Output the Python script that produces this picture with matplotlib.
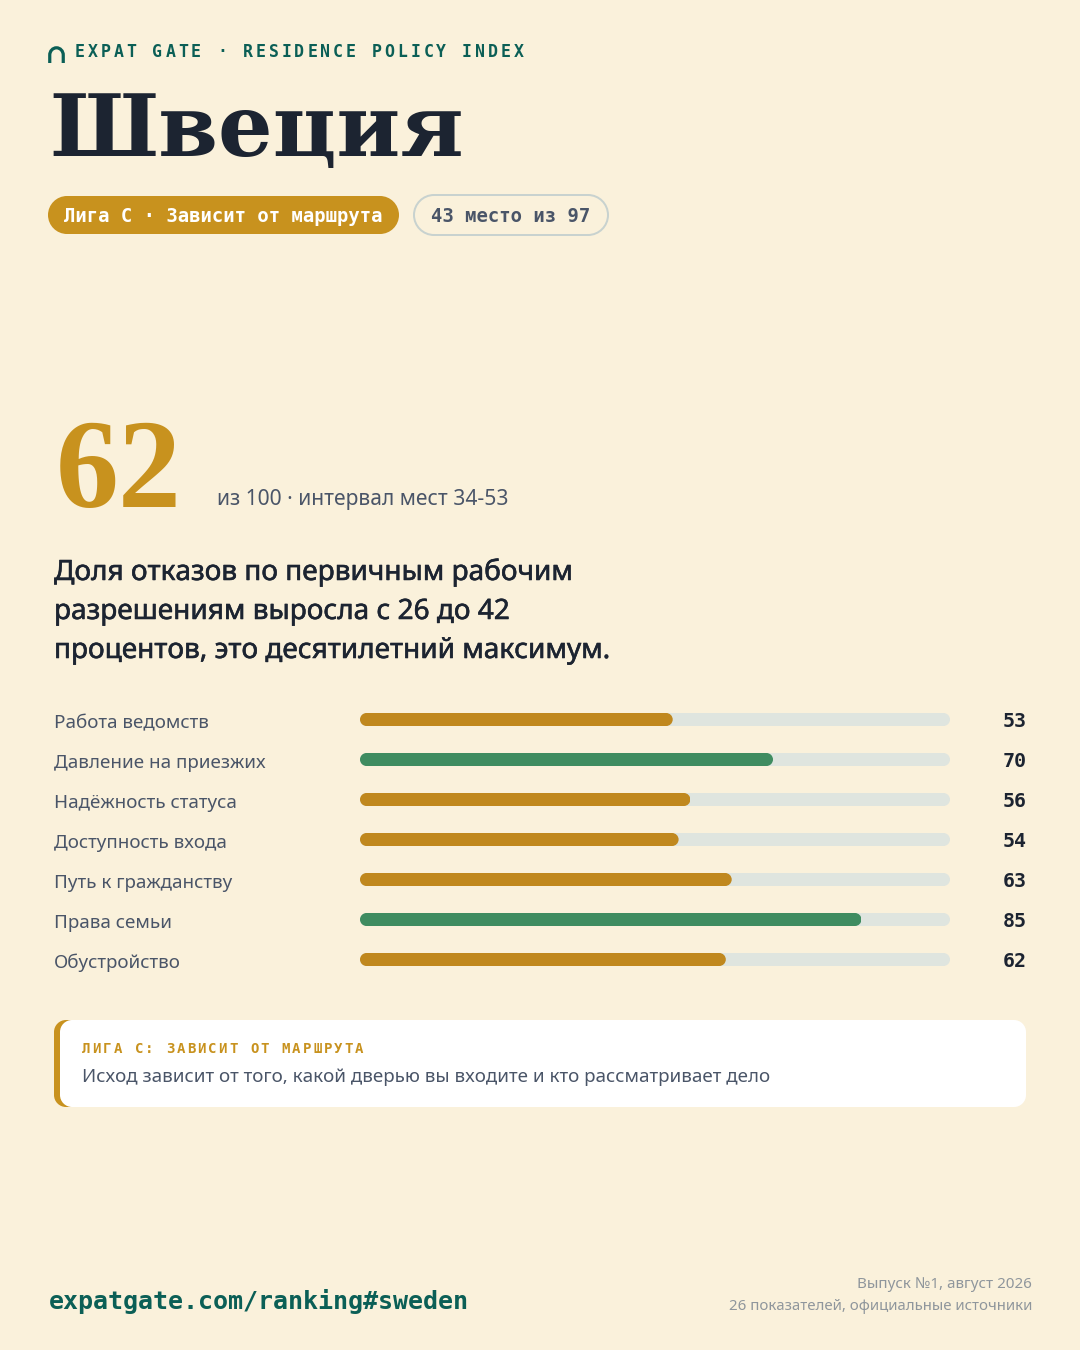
import matplotlib
matplotlib.use('Agg')
import matplotlib.pyplot as plt
import matplotlib.patheffects as pe
from matplotlib.patches import PathPatch
from matplotlib.path import Path
from matplotlib.transforms import blended_transform_factory

labels = ['Работа ведомств', 'Давление на приезжих', 'Надёжность статуса', 'Доступность входа',
          'Путь к гражданству', 'Права семьи', 'Обустройство']
values = [53, 70, 56, 54, 63, 85, 62]
bar_kinds = ['mid', 'high', 'mid', 'mid', 'mid', 'high', 'mid']
headline = ['Доля отказов по первичным рабочим', 'разрешениям выросла с 26 до 42',
            'процентов, это десятилетний максимум.']

BG = '#FAF1DB'
TEAL = '#0B5F56'
INK = '#1C2431'
GOLD = '#C8921E'
BAR_COLORS = {'mid': '#C0881E', 'high': '#3F8C60'}
TRACK = '#DFE5DF'
GREY = '#4A5568'
PALE = '#8F969C'

MONO = 'DejaVu Sans Mono'
SANS = 'Noto Sans'
SERIF = 'Liberation Serif'
TITLE = 'DejaVu Serif'


def pt(px):
    return px * 0.72


def spaced(ax, x, y, s, advance, size, color, weight='bold'):
    # letter spacing by hand, matplotlib has no tracking option
    for i, ch in enumerate(s):
        ax.text(x + i * advance, y, ch, family=MONO, fontsize=pt(size), color=color,
                weight=weight, va='baseline', ha='left')


def round_rect(x0, y0, x1, y1, rx, ry=None):
    # cubic corners, the built in round boxstyle looks too square on pills
    ry = rx if ry is None else ry
    kx, ky = rx * 0.448, ry * 0.448
    verts = [(x0 + rx, y0), (x1 - rx, y0),
             (x1 - kx, y0), (x1, y0 + ky), (x1, y0 + ry), (x1, y1 - ry),
             (x1, y1 - ky), (x1 - kx, y1), (x1 - rx, y1), (x0 + rx, y1),
             (x0 + kx, y1), (x0, y1 - ky), (x0, y1 - ry), (x0, y0 + ry),
             (x0, y0 + ky), (x0 + kx, y0), (x0 + rx, y0), (x0 + rx, y0)]
    codes = [Path.MOVETO, Path.LINETO,
             Path.CURVE4, Path.CURVE4, Path.CURVE4, Path.LINETO,
             Path.CURVE4, Path.CURVE4, Path.CURVE4, Path.LINETO,
             Path.CURVE4, Path.CURVE4, Path.CURVE4, Path.LINETO,
             Path.CURVE4, Path.CURVE4, Path.CURVE4, Path.CLOSEPOLY]
    return Path(verts, codes)


def box(ax, x0, y0, x1, y1, r, **kw):
    ax.add_patch(PathPatch(round_rect(x0, y0, x1, y1, r), **kw))


fig = plt.figure(figsize=(10.8, 13.5), dpi=100, facecolor=BG)
bg = fig.add_axes([0, 0, 1, 1])
bg.set_xlim(0, 1080)
bg.set_ylim(1350, 0)
bg.axis('off')

# arch logo
arch = Path([(49.75, 63), (49.75, 55), (49.75, 51), (52.8, 47.8), (56.5, 47.8),
             (60.2, 47.8), (63.25, 51), (63.25, 55), (63.25, 63)],
            [Path.MOVETO, Path.LINETO, Path.CURVE4, Path.CURVE4, Path.CURVE4,
             Path.CURVE4, Path.CURVE4, Path.CURVE4, Path.LINETO])
bg.add_patch(PathPatch(arch, fill=False, edgecolor=TEAL, lw=pt(3.2), capstyle='butt'))

spaced(bg, 75, 57, 'EXPAT GATE · RESIDENCE POLICY INDEX', 12.9, 16.5, TEAL)

bg.text(49, 155.5, 'Швеция', family=TITLE, weight='bold', fontsize=pt(86), color=INK, va='baseline')

box(bg, 48, 196, 399, 234, 19, facecolor=GOLD, edgecolor='none')
bg.text(64, 222, 'Лига С · Зависит от маршрута', family=MONO, weight='bold', fontsize=pt(18.9),
        color='white', va='baseline')
box(bg, 414, 195, 608, 235, 20, facecolor='none', edgecolor='#C8D2CF', lw=pt(2))
bg.text(431, 222, '43 место из 97', family=MONO, weight='bold', fontsize=pt(18.9), color=GREY, va='baseline')

bg.text(56, 507, '62', family=SERIF, weight='bold', fontsize=pt(126), color=GOLD, va='baseline')
bg.text(217, 505, 'из 100 · интервал мест 34-53', family=SANS, fontsize=pt(21), color=GREY, va='baseline')

for line, y in zip(headline, [580, 619, 658]):
    bg.text(54, y, line, family=SANS, fontsize=pt(28), color=INK, va='baseline',
            path_effects=[pe.withStroke(linewidth=0.4, foreground=INK)])

# score bars, axes spans 0..100 over the track width
ax = fig.add_axes([360 / 1080, 1 - 979.5 / 1350, 590 / 1080, 280 / 1350])
ax.set_xlim(0, 100)
ax.set_ylim(len(values) - 0.5, -0.5)
ax.axis('off')
h = 13 / 40
rx = 6.5 * 100 / 590
for i, (v, kind) in enumerate(zip(values, bar_kinds)):
    for width, col in [(100, TRACK), (v, BAR_COLORS[kind])]:
        bar = ax.barh(i, width, height=h, color=col, linewidth=0)[0]
        bar.set_clip_path(round_rect(0, i - h / 2, width, i + h / 2, rx, h / 2), ax.transData)

tr = blended_transform_factory(bg.transData, ax.transData)
for i, (lab, v) in enumerate(zip(labels, values)):
    ax.text(54, i + 0.22, lab, transform=tr, family=SANS, fontsize=pt(18.8), color=GREY,
            va='baseline', clip_on=False)
    ax.text(1026.5, i + 0.19, str(v), transform=tr, family=MONO, weight='bold', fontsize=pt(20),
            color=INK, va='baseline', ha='right', clip_on=False)

# callout card
box(bg, 54, 1020, 90, 1107, 12, facecolor=GOLD, edgecolor='none')
box(bg, 60, 1020, 1026, 1107, 12, facecolor='white', edgecolor='none')
spaced(bg, 82, 1053, 'ЛИГА С: ЗАВИСИТ ОТ МАРШРУТА', 10.5, 14, GOLD)
bg.text(82, 1082, 'Исход зависит от того, какой дверью вы входите и кто рассматривает дело',
        family=SANS, fontsize=pt(18.75), color=GREY, va='baseline')

# footer
bg.text(49, 1309, 'expatgate.com/ranking#sweden', family=MONO, weight='bold', fontsize=pt(25),
        color=TEAL, va='baseline')
bg.text(1032, 1288, 'Выпуск №1, август 2026', family=SANS, fontsize=pt(15.2), color=PALE,
        va='baseline', ha='right')
bg.text(1032, 1310, '26 показателей, официальные источники', family=SANS, fontsize=pt(15), color=PALE,
        va='baseline', ha='right')

fig.savefig('out.png', dpi=100, facecolor=BG)
